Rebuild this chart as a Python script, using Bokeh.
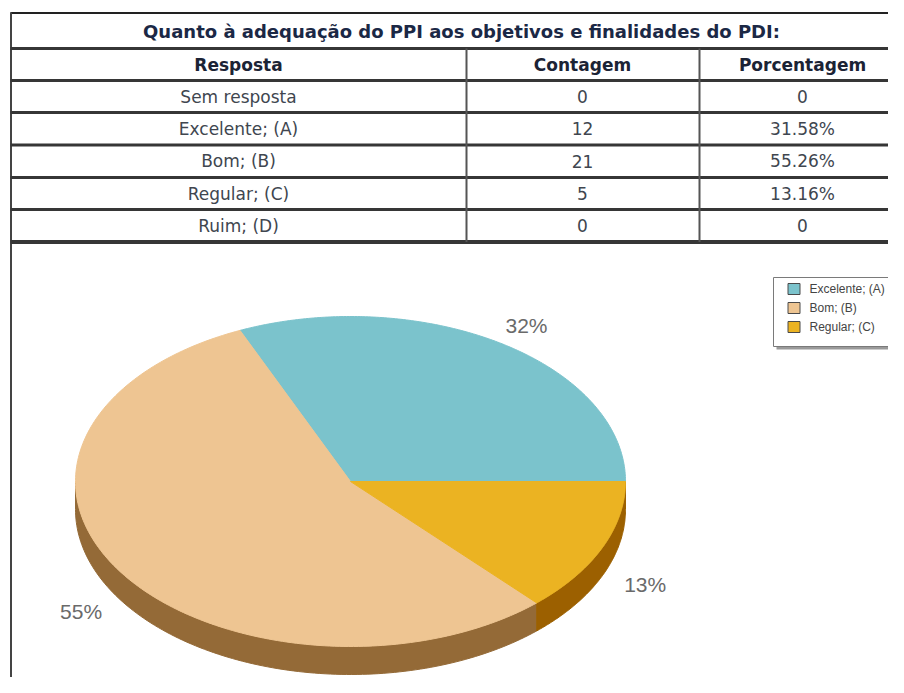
import numpy as np
from bokeh.plotting import figure
from bokeh.models import Range1d
from bokeh.core.properties import value
from bokeh.embed import file_html
from bokeh.resources import INLINE

# ---------------- data ----------------
title = "Quanto à adequação do PPI aos objetivos e finalidades do PDI:"
headers = ["Resposta", "Contagem", "Porcentagem"]
respostas = ["Sem resposta", "Excelente; (A)", "Bom; (B)", "Regular; (C)", "Ruim; (D)"]
contagem = [0, 12, 21, 5, 0]
porcentagem = ["0", "31.58%", "55.26%", "13.16%", "0"]

pie_categories = ["Excelente; (A)", "Bom; (B)", "Regular; (C)"]
pie_values = [31.58, 55.26, 13.16]
pie_labels = ["32%", "55%", "13%"]
pie_colors = ["#7BC3CC", "#EEC592", "#EBB322"]
side_colors = ["#5E9AA2", "#946A37", "#9C6000"]

# ---------------- layout (pixel coordinates of the picture) ----------------
W, H = 888, 677
LEFT, RIGHT, TOP = 10, W, 12
row_edges = [48, 80, 112, 144.5, 177, 209, 241.5]
col_lines = [466, 699]
col_centers = [238, 582, 802]
CX, CY, RX, RY, DEPTH = 350, 481, 275, 165, 28

p = figure(width=W, height=H, x_range=Range1d(0, W), y_range=Range1d(H, 0),
           output_backend="svg", toolbar_location=None,
           x_axis_type=None, y_axis_type=None, min_border=0)
p.outline_line_color = None
p.background_fill_color = "white"
p.border_fill_color = "white"

# ---------------- table ----------------
p.segment(x0=[LEFT], y0=[TOP + 0.5], x1=[RIGHT], y1=[TOP + 0.5], line_color="#222222", line_width=2)
p.segment(x0=[LEFT + 0.5], y0=[TOP], x1=[LEFT + 0.5], y1=[H], line_color="#444444", line_width=2)
widths = [3, 3, 3, 3, 3, 3, 4]
p.segment(x0=[LEFT] * len(row_edges), y0=row_edges, x1=[RIGHT] * len(row_edges), y1=row_edges,
          line_color="#363636", line_width=widths)
p.segment(x0=col_lines, y0=[row_edges[0]] * 2, x1=col_lines, y1=[row_edges[-1]] * 2,
          line_color="#555555", line_width=2)

font = value("DejaVu Sans")
p.text(x=[461], y=[31], text=[title], text_font=font, text_font_style="bold",
       text_font_size="18px", text_color="#1B2845", text_align="center", text_baseline="middle")
p.text(x=col_centers, y=[64] * 3, text=headers, text_font=font, text_font_style="bold",
       text_font_size="17px", text_color="#1B2335", text_align="center", text_baseline="middle")

row_centers = [(row_edges[i + 1] + row_edges[i + 2]) / 2 for i in range(len(respostas))]
cells_x, cells_y, cells_t = [], [], []
for i in range(len(respostas)):
    for j, t in enumerate([respostas[i], str(contagem[i]), porcentagem[i]]):
        cells_x.append(col_centers[j]); cells_y.append(row_centers[i]); cells_t.append(t)
p.text(x=cells_x, y=cells_y, text=cells_t, text_font=font, text_font_size="17px",
       text_color="#40464F", text_align="center", text_baseline="middle")

# ---------------- 3D pie ----------------
vals = np.array(pie_values, dtype=float)
fr = vals / vals.sum()
ends = np.cumsum(fr) * 2 * np.pi
starts = np.concatenate([[0], ends[:-1]])

def ell(t, dy=0.0):
    return CX + RX * np.cos(t), CY - RY * np.sin(t) + dy

side_xs, side_ys, side_c = [], [], []
for s, e, c in zip(starts, ends, side_colors):
    a, b = max(s, np.pi), min(e, 2 * np.pi)
    if b > a:
        t = np.linspace(a, b, 120)
        x1, y1 = ell(t)
        x2, y2 = ell(t[::-1], DEPTH)
        side_xs.append(list(np.concatenate([x1, x2])))
        side_ys.append(list(np.concatenate([y1, y2])))
        side_c.append(c)
p.patches(xs=side_xs, ys=side_ys, fill_color=side_c, line_color=side_c, line_width=1)

top_xs, top_ys = [], []
for s, e in zip(starts, ends):
    t = np.linspace(s, e, 200)
    x, y = ell(t)
    top_xs.append([CX] + list(x))
    top_ys.append([CY] + list(y))
p.patches(xs=top_xs, ys=top_ys, fill_color=pie_colors, line_color=pie_colors, line_width=1)

mids = (starts + ends) / 2
lx = CX + 1.17 * RX * np.cos(mids)
ly = CY - 1.13 * RY * np.sin(mids) + np.where(np.sin(mids) < 0, DEPTH, 0)
p.text(x=list(lx), y=list(ly), text=pie_labels, text_font=value("Liberation Sans"),
       text_font_size="21px", text_color="#6A6A6A", text_align="center", text_baseline="middle")

# ---------------- legend ----------------
LX0, LX1, LY0, LY1 = 773, W + 2, 277, 346
p.quad(left=[LX0 + 3], right=[LX1 + 3], top=[LY0 + 3], bottom=[LY1 + 3],
       fill_color="#9A9A9A", line_color=None)
p.quad(left=[LX0], right=[LX1], top=[LY0], bottom=[LY1],
       fill_color="white", line_color="#7A7A7A", line_width=1)
leg_y = [288.5, 307.5, 326.5]
p.rect(x=[793.5] * 3, y=leg_y, width=12, height=11, fill_color=pie_colors,
       line_color="#4A4A4A", line_width=1)
p.text(x=[809] * 3, y=leg_y, text=pie_categories, text_font=value("Liberation Sans"),
       text_font_size="12px", text_color="#444444", text_align="left", text_baseline="middle")

open("out.html", "w").write(file_html(p, INLINE))
